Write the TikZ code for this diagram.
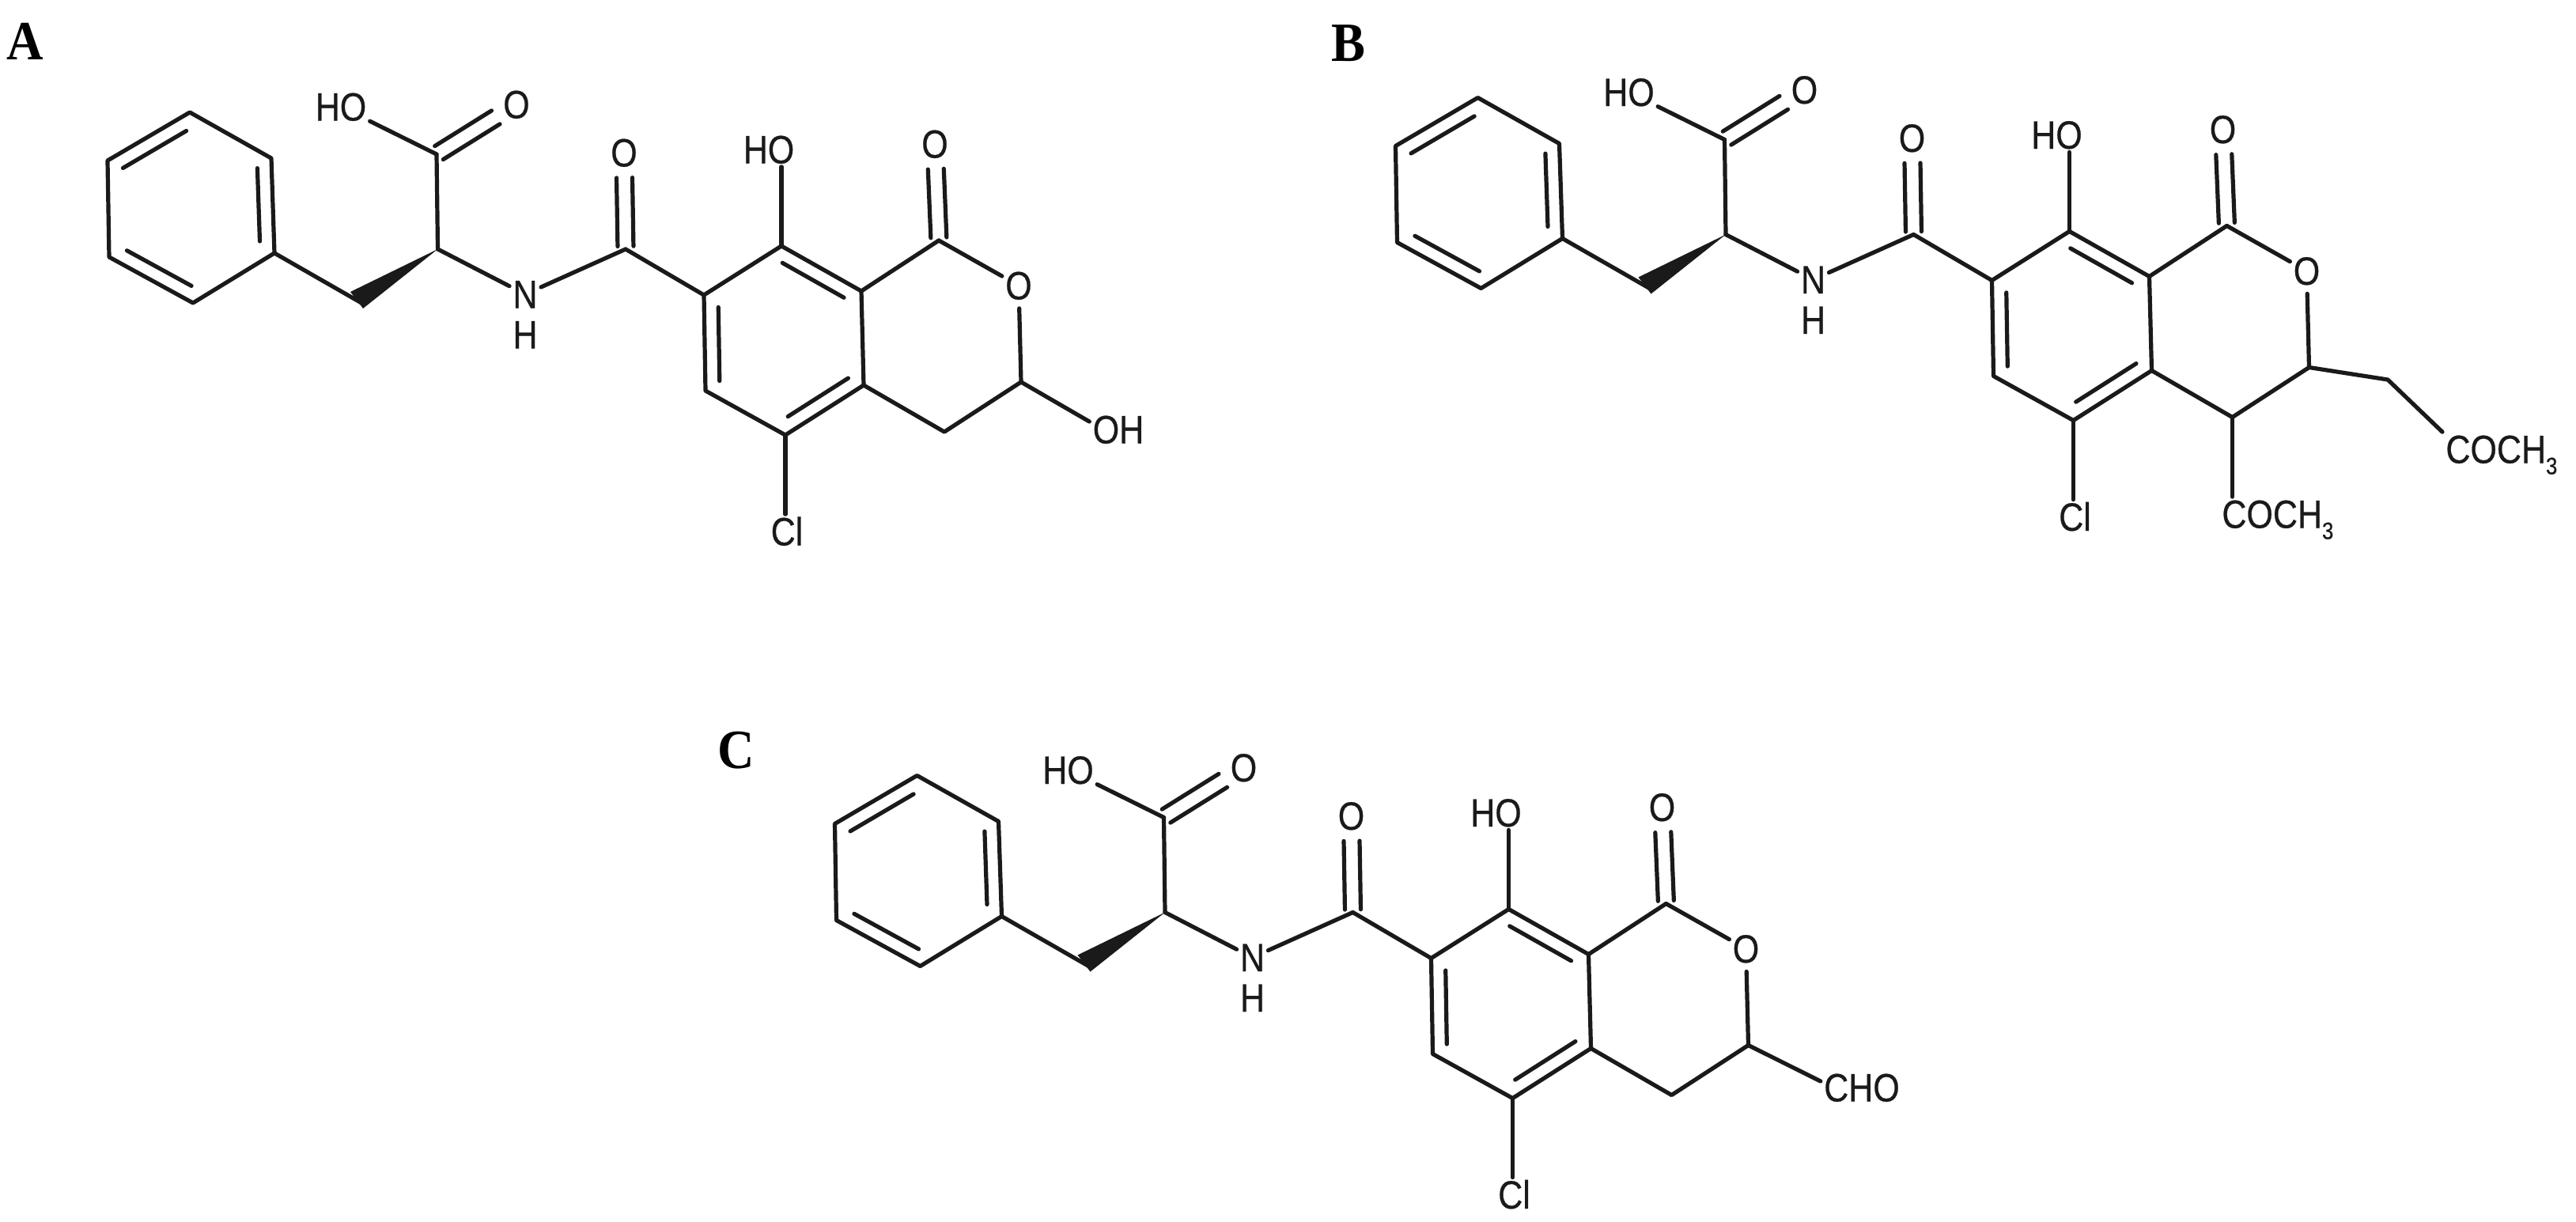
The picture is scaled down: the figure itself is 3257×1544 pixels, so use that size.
\documentclass[tikz,border=0pt]{standalone}
\usepackage{fontspec}
\usetikzlibrary{calc}
\newfontfamily\chemfont[FakeStretch=0.86,FakeBold=0.5]{Liberation Sans}
\newfontfamily\letterfont[FakeStretch=0.92]{Liberation Serif}
\definecolor{ink}{HTML}{1A1A1A}
\tikzset{
  x=.5pt,y=-.5pt,
  bond/.style={draw=ink,line width=2.6pt,line cap=round,line join=round},
  atom/.style={font=\chemfont\fontsize{25}{30}\selectfont,text=ink,inner sep=2pt,text height=17.5pt,text depth=0pt},
  panel/.style={font=\letterfont\bfseries\fontsize{35}{41}\selectfont,text=black,inner sep=0pt},
}
\newcommand{\dbo}[2]{%
  \draw[bond] ($(#1)!.03!(#2)!5pt!90:(#2)$) -- ($(#1)!.74!(#2)!5pt!90:(#2)$);
  \draw[bond] ($(#1)!.03!(#2)!5pt!-90:(#2)$) -- ($(#1)!.74!(#2)!5pt!-90:(#2)$);}
\newcommand{\inb}[2]{%
  \draw[bond] ($(#1)!.13!(#2)!9pt!90:(#2)$) -- ($(#1)!.9!(#2)!9pt!90:(#2)$);}
\newcommand{\subthree}{\raisebox{-7pt}{\fontsize{15}{18}\selectfont 3}}
\newcommand{\Mol}[3]{%
\begin{scope}[shift={(#2,#3)}]
  % benzene ring
  \coordinate (#1bt) at (240,142);
  \coordinate (#1bul) at (136,203);
  \coordinate (#1bll) at (138,325);
  \coordinate (#1bb) at (244,383);
  \coordinate (#1blr) at (347,320);
  \coordinate (#1bur) at (343,200);
  \draw[bond] (#1bt) -- (#1bul) -- (#1bll) -- (#1bb) -- (#1blr) -- (#1bur) -- cycle;
  \inb{#1bt}{#1bul}
  \inb{#1bll}{#1bb}
  \inb{#1blr}{#1bur}
  % alanine part
  \coordinate (#1ch) at (457,383);
  \coordinate (#1ca) at (553.5,315);
  \coordinate (#1cc) at (552,195);
  \coordinate (#1wa) at (443,369);
  \coordinate (#1wb) at (459,390);
  \node[atom] (#1hoa) at (431,135) {HO};
  \node[atom] (#1oa) at (653,132) {O};
  \node[atom] (#1n) at (664,372) {N};
  \node[atom] (#1h) at (664,423) {H};
  \draw[bond] (#1blr) -- (#1ch);
  \fill[ink] (#1ca) -- (#1wa) -- (#1wb) -- cycle;
  \draw[bond] (#1ca) -- (#1cc);
  \draw[bond] (#1cc) -- (#1hoa);
  \dbo{#1cc}{#1oa}
  \draw[bond] (#1ca) -- (#1n);
  % amide
  \coordinate (#1cam) at (791,315);
  \node[atom] (#1oam) at (789,193) {O};
  \draw[bond] (#1n) -- (#1cam);
  \dbo{#1cam}{#1oam}
  % isocoumarin core
  \coordinate (#1c7) at (890,373);
  \coordinate (#1c8) at (988,311);
  \coordinate (#1c8a) at (1089,368);
  \coordinate (#1c4a) at (1092,487);
  \coordinate (#1c5) at (993,550);
  \coordinate (#1c6) at (892,494);
  \coordinate (#1c1) at (1187,304);
  \coordinate (#1c3) at (1291,483);
  \coordinate (#1c4) at (1194,546);
  \node[atom] (#1orn) at (1288,361) {O};
  \node[atom] (#1oc) at (1182,182) {O};
  \node[atom] (#1hob) at (972,189) {HO};
  \node[atom] (#1cl) at (995,672) {Cl};
  \draw[bond] (#1cam) -- (#1c7) -- (#1c6) -- (#1c5) -- (#1c4a) -- (#1c8a) -- (#1c8) -- (#1c7);
  \inb{#1c7}{#1c6}
  \inb{#1c5}{#1c4a}
  \inb{#1c8a}{#1c8}
  \draw[bond] (#1c8a) -- (#1c1);
  \draw[bond] (#1c1) -- (#1orn);
  \draw[bond,shorten <=3.5pt] (#1orn) -- (#1c3);
  \draw[bond] (#1c3) -- (#1c4) -- (#1c4a);
  \dbo{#1c1}{#1oc}
  \draw[bond] (#1c8) -- (#1hob.south -| #1c8);
  \draw[bond] (#1c5) -- (#1cl.north -| #1c5);
\end{scope}}
\begin{document}
\begin{tikzpicture}
\fill[white] (0,0) rectangle (3257,1544);
\useasboundingbox (0,0) rectangle (3257,1544);
\node[panel] (la) at (32,52) {A};
\node[panel] (lb) at (1705,55) {B};
\node[panel] (lc) at (931,949) {C};
\Mol{a}{0}{0}
\Mol{b}{1628.5}{-18.5}
\Mol{c}{919.5}{838.5}
% A substituent
\node[atom] (aoh) at (1414,543) {OH};
\draw[bond] (ac3) -- ($(aoh.west)+(0,-10)$);
% B substituents
\coordinate (bch) at (3019,480);
\node[atom,anchor=west] (bxa) at (3088,568) {COCH\subthree};
\node[atom,anchor=west] (bxb) at (2805,650) {COCH\subthree};
\draw[bond] (bc3) -- (bch) -- (bxa.north west);
\draw[bond] (bc4) -- (bxb.north -| bc4);
% C substituent
\node[atom] (ccho) at (2354,1375) {CHO};
\draw[bond] (cc3) -- ($(ccho.west)+(0,-8)$);
\end{tikzpicture}
\end{document}
